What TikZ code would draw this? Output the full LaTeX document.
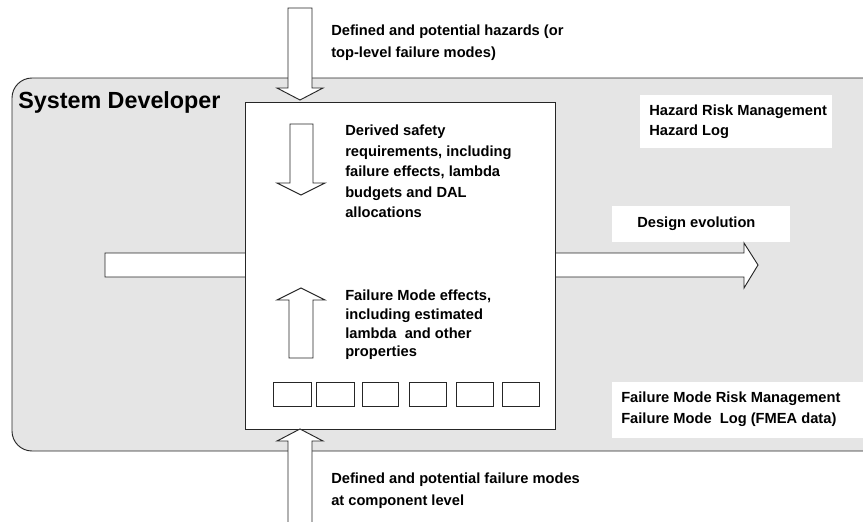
\documentclass[tikz,border=0pt]{standalone}
\usepackage{fontspec}
\setmainfont{Liberation Sans}
\begin{document}
\begin{tikzpicture}[x=0.75pt, y=-0.75pt,
    lbl/.style={font=\bfseries\fontsize{11}{15.5}\selectfont, align=left, inner sep=0pt, anchor=north west},
    blockarrow/.style={draw=black!85, fill=white, line width=0.7pt},
    frame/.style={draw=black!85, line width=0.7pt}]
        % ==== DEFINITIONS ====
        \def\shL{288} % left of vertical shafts
        \def\shR{312} % right of vertical shafts
        \def\hdL{277} % left of vertical heads
        \def\hdR{323} % right of vertical heads
        \def\mx{300} % middle of vertical arrows

        \useasboundingbox (0,0) rectangle (863,521);
        \clip (0,0) rectangle (863,521);

        % ==== SYSTEM DEVELOPER AREA ====
        \draw[frame, fill=black!10, rounded corners=15] (12,78) rectangle (900,451);
        \node[lbl, font=\bfseries\fontsize{17.5}{20}\selectfont] (sysdev) at (18,91) {System Developer};

        % ==== WHITE LABEL BOXES ====
        \fill[white] (640,95) rectangle (832,148);
        \fill[white] (612,206) rectangle (790,242);
        \fill[white] (612,382) rectangle (870,438);
        \node[lbl, font=\bfseries\fontsize{11}{14.5}\selectfont] (hazlog) at (649,105) {Hazard Risk Management\\Hazard Log};
        \node[lbl] (design) at (637,217) {Design evolution};
        \node[lbl] (fmlog) at (621,392) {Failure Mode Risk Management\\Failure Mode\ \ Log (FMEA data)};

        % ==== DESIGN EVOLUTION ARROW ====
        \draw[blockarrow] (105,253) -- (744,253) -- (744,243) -- (758,265) -- (744,288)
            -- (744,277) -- (105,277) -- cycle;

        % ==== DEVELOPMENT BOX ====
        \draw[frame, fill=white] (245,102) rectangle (555,429);

        % ==== HAZARDS IN ====
        \draw[blockarrow] (\shL,8) -- (\shR,8) -- (\shR,88) -- (\hdR,88) -- (\mx,100)
            -- (\hdL,88) -- (\shL,88) -- cycle;
        \node[lbl, font=\bfseries\fontsize{11}{16.5}\selectfont] (hazin) at (331,25) {Defined and potential hazards (or\\top-level failure modes)};

        % ==== DERIVED REQUIREMENTS ====
        \draw[blockarrow] (290,124) -- (313,124) -- (313,183) -- (325,183) -- (301,195)
            -- (277,183) -- (290,183) -- cycle;
        \node[lbl, font=\bfseries\fontsize{11}{15.3}\selectfont] (derived) at (345,125) {Derived safety\\requirements, including\\failure effects, lambda\\budgets and DAL\\allocations};

        % ==== FAILURE MODE EFFECTS ====
        \draw[blockarrow] (289,358) -- (289,300) -- (\hdL,300) -- (301,288) -- (325,300)
            -- (313,300) -- (313,358) -- cycle;
        \node[lbl, font=\bfseries\fontsize{11}{14}\selectfont] (fmeffects) at (345,290) {Failure Mode effects,\\including estimated\\lambda\ \ and other\\properties};

        % ==== COMPONENTS ====
        \draw[frame] (273,382) rectangle (311,406);
        \draw[frame] (316,382) rectangle (354,406);
        \draw[frame] (362,382) rectangle (398,406);
        \draw[frame] (409,382) rectangle (446,406);
        \draw[frame] (456,382) rectangle (493,406);
        \draw[frame] (502,382) rectangle (539,406);

        % ==== FAILURE MODES IN ====
        \fill[white] (\shL,530) -- (\shL,441) -- (\hdL,441) -- (\mx,429) -- (\hdR,441)
            -- (\shR,441) -- (\shR,530) -- cycle;
        \draw[frame] (\shL,530) -- (\shL,441) -- (\hdL,441) -- (\mx,429) -- (\hdR,441)
            -- (\shR,441) -- (\shR,530);
        \node[lbl, font=\bfseries\fontsize{11}{16.5}\selectfont] (fmin) at (331,473) {Defined and potential failure modes\\at component level};

    \end{tikzpicture}
\end{document}
